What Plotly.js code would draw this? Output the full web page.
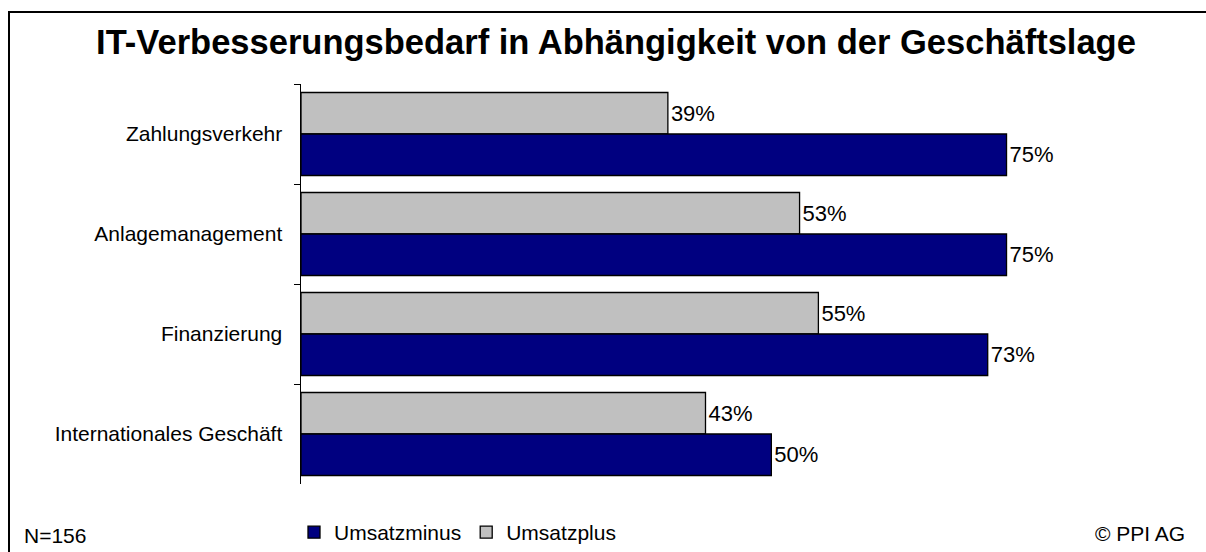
<!DOCTYPE html>
<html>
<head>
<meta charset="utf-8">
<script src="https://cdn.plot.ly/plotly-3.0.1.min.js"></script>
<style>
  html, body { margin: 0; padding: 0; background: #fff; }
  #chart { width: 1206px; height: 552px; }
</style>
</head>
<body>
<div id="chart"></div>
<script>
// ---- data ----
const categories = ["Zahlungsverkehr", "Anlagemanagement", "Finanzierung", "Internationales Geschäft"];
const umsatzplus = [39, 53, 55, 43];
const umsatzminus = [75, 75, 73, 50];
const seriesNames = ["Umsatzminus", "Umsatzplus"];
const titleText = "IT-Verbesserungsbedarf in Abhängigkeit von der Geschäftslage";
const noteLeft = "N=156";
const noteRight = "© PPI AG";

// ---- layout geometry ----
const W = 1206, H = 552;
const M = { l: 301, r: 11, t: 84, b: 68, autoexpand: false };
const pw = W - M.l - M.r, ph = H - M.t - M.b;
const pxX = x => (x - M.l) / pw;
const pxY = y => (H - M.b - y) / ph;
const FONT = "Arial, 'Liberation Sans', sans-serif";

const traces = [
  {
    type: "bar", orientation: "h", name: seriesNames[1],
    y: categories, x: umsatzplus,
    marker: { color: "#C0C0C0", line: { color: "#000000", width: 1.3 } },
    text: umsatzplus.map(v => v + "%"), textposition: "outside",
    textfont: { family: FONT, size: 22, color: "#000" },
    constraintext: "none", cliponaxis: false, hoverinfo: "none"
  },
  {
    type: "bar", orientation: "h", name: seriesNames[0],
    y: categories, x: umsatzminus,
    marker: { color: "#000080", line: { color: "#000000", width: 1.3 } },
    text: umsatzminus.map(v => v + "%"), textposition: "outside",
    textfont: { family: FONT, size: 22, color: "#000" },
    constraintext: "none", cliponaxis: false, hoverinfo: "none"
  }
];

const layout = {
  width: W, height: H,
  margin: M,
  paper_bgcolor: "#fff", plot_bgcolor: "#fff",
  font: { family: FONT, size: 21, color: "#000" },
  title: {
    text: "<b>" + titleText + "</b>",
    font: { family: FONT, size: 34.5, color: "#000" },
    x: 616 / W, xanchor: "center", xref: "container",
    y: 1 - 42 / H, yanchor: "middle", yref: "container"
  },
  barmode: "group", bargap: 0.17, bargroupgap: 0,
  xaxis: {
    range: [0, pw / 9.407], visible: false, showgrid: false, zeroline: false, fixedrange: true
  },
  yaxis: {
    type: "category", autorange: "reversed",
    showline: true, linecolor: "#000", linewidth: 1.5,
    ticks: "outside", tickson: "boundaries", ticklen: 6, tickcolor: "#000", tickwidth: 1,
    ticklabelstandoff: 13,
    tickfont: { family: FONT, size: 21, color: "#000" },
    showgrid: false, zeroline: false, fixedrange: true
  },
  showlegend: true,
  legend: {
    orientation: "h", traceorder: "reversed",
    x: pxX(294), xanchor: "left", y: pxY(512), yanchor: "top",
    font: { family: FONT, size: 21, color: "#000" },
    bgcolor: "rgba(0,0,0,0)", borderwidth: 0, itemwidth: 30
  },
  annotations: [
    { text: noteLeft, xref: "paper", yref: "paper", x: pxX(22), y: pxY(549), xanchor: "left", yanchor: "bottom",
      showarrow: false, font: { family: FONT, size: 21, color: "#000" } },
    { text: noteRight, xref: "paper", yref: "paper", x: pxX(1187), y: pxY(547), xanchor: "right", yanchor: "bottom",
      showarrow: false, font: { family: FONT, size: 21, color: "#000" } }
  ],
  shapes: [
    { type: "line", xref: "paper", yref: "paper", x0: pxX(8), x1: pxX(1210), y0: pxY(12), y1: pxY(12),
      line: { color: "#000", width: 2 } },
    { type: "line", xref: "paper", yref: "paper", x0: pxX(9), x1: pxX(9), y0: pxY(11), y1: pxY(560),
      line: { color: "#000", width: 2 } }
  ]
};

Plotly.newPlot("chart", traces, layout, { displayModeBar: false, staticPlot: true });
</script>
</body>
</html>
